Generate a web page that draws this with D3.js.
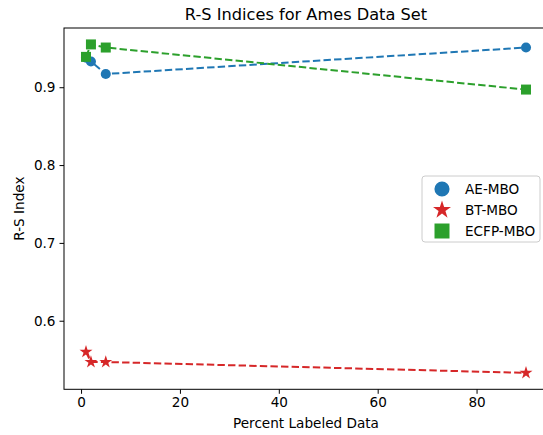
<!DOCTYPE html>
<html>
<head>
<meta charset="utf-8">
<script src="https://cdn.jsdelivr.net/npm/d3@7/dist/d3.min.js"></script>
<style>
  html, body { margin: 0; padding: 0; background: #fff; }
  svg { display: block; font-family: "DejaVu Sans", sans-serif; }
</style>
</head>
<body>
<svg id="chart" width="543" height="435"></svg>
<script>
// Percent of labeled data used for each run
const labeledPct = [1, 2, 5, 90];

// R-S index per method
const aeMbo   = [0.938, 0.933, 0.917, 0.951];
const btMbo   = [0.560, 0.547, 0.547, 0.533];
const ecfpMbo = [0.939, 0.955, 0.951, 0.897];

const seriesNames = ["AE-MBO", "BT-MBO", "ECFP-MBO"];
const xTicks = [0, 20, 40, 60, 80];
const yTicks = [0.6, 0.7, 0.8, 0.9];

const series = [
  { name: seriesNames[0], values: aeMbo,   color: "#1f77b4", symbol: d3.symbolCircle, size: 80,  legendSize: 180 },
  { name: seriesNames[1], values: btMbo,   color: "#d62728", symbol: d3.symbolStar,   size: 52,  legendSize: 100 },
  { name: seriesNames[2], values: ecfpMbo, color: "#2ca02c", symbol: d3.symbolSquare, size: 100, legendSize: 225 }
];

const plot = { left: 64, right: 548, top: 28, bottom: 389.3 };
const fontSize = 13.6;

// matplotlib-style 5% padding around the data range
function padded(vals) {
  const [lo, hi] = d3.extent(vals);
  const m = (hi - lo) * 0.05;
  return [lo - m, hi + m];
}

const x = d3.scaleLinear().domain(padded(labeledPct)).range([plot.left, plot.right]);
const y = d3.scaleLinear()
  .domain(padded([...aeMbo, ...btMbo, ...ecfpMbo]))
  .range([plot.bottom, plot.top]);

const svg = d3.select("#chart");

// dashed connecting lines
const line = d3.line().x((d, i) => x(labeledPct[i])).y(d => y(d));
series.forEach(s => {
  svg.append("path")
    .datum(s.values)
    .attr("d", line)
    .attr("fill", "none")
    .attr("stroke", s.color)
    .attr("stroke-width", 2)
    .attr("stroke-dasharray", "7.4,3.2");
});

// markers
series.forEach(s => {
  const sym = d3.symbol().type(s.symbol).size(s.size);
  svg.append("g").selectAll("path")
    .data(s.values)
    .join("path")
    .attr("d", sym)
    .attr("transform", (d, i) => `translate(${x(labeledPct[i])},${y(d)})`)
    .attr("fill", s.color);
});

// axes
const xAxis = d3.axisBottom(x).tickValues(xTicks).tickFormat(d3.format("d")).tickSize(4.5).tickPadding(4);
const yAxis = d3.axisLeft(y).tickValues(yTicks).tickFormat(d3.format(".1f")).tickSize(4.5).tickPadding(4);

const gx = svg.append("g").attr("transform", `translate(0,${plot.bottom})`).call(xAxis);
const gy = svg.append("g").attr("transform", `translate(${plot.left},0)`).call(yAxis);
[gx, gy].forEach(g => {
  g.select(".domain").remove();
  g.selectAll("text").attr("font-size", fontSize).attr("fill", "#000").attr("font-family", "DejaVu Sans");
  g.selectAll("line").attr("stroke", "#000").attr("stroke-width", 1);
});

// frame (top, left, bottom spines; right side falls outside the view)
svg.append("rect")
  .attr("x", plot.left).attr("y", plot.top)
  .attr("width", plot.right - plot.left).attr("height", plot.bottom - plot.top)
  .attr("fill", "none").attr("stroke", "#000").attr("stroke-width", 1);

// titles
svg.append("text")
  .attr("x", (plot.left + plot.right) / 2).attr("y", 20)
  .attr("text-anchor", "middle").attr("font-size", 16.2)
  .text("R-S Indices for Ames Data Set");

svg.append("text")
  .attr("x", (plot.left + plot.right) / 2).attr("y", 428)
  .attr("text-anchor", "middle").attr("font-size", fontSize)
  .text("Percent Labeled Data");

svg.append("text")
  .attr("transform", `translate(24,${(plot.top + plot.bottom) / 2}) rotate(-90)`)
  .attr("text-anchor", "middle").attr("font-size", fontSize)
  .text("R-S Index");

// legend
const lg = svg.append("g").attr("transform", "translate(422,176)");
lg.append("rect")
  .attr("width", 118).attr("height", 66).attr("rx", 3)
  .attr("fill", "#fff").attr("fill-opacity", 0.8)
  .attr("stroke", "#ccc").attr("stroke-width", 1);
series.forEach((s, i) => {
  const cy = 13 + i * 21;
  lg.append("path")
    .attr("d", d3.symbol().type(s.symbol).size(s.legendSize))
    .attr("transform", `translate(20,${cy})`)
    .attr("fill", s.color);
  lg.append("text")
    .attr("x", 43).attr("y", cy + 5)
    .attr("font-size", fontSize)
    .text(s.name);
});
</script>
</body>
</html>
